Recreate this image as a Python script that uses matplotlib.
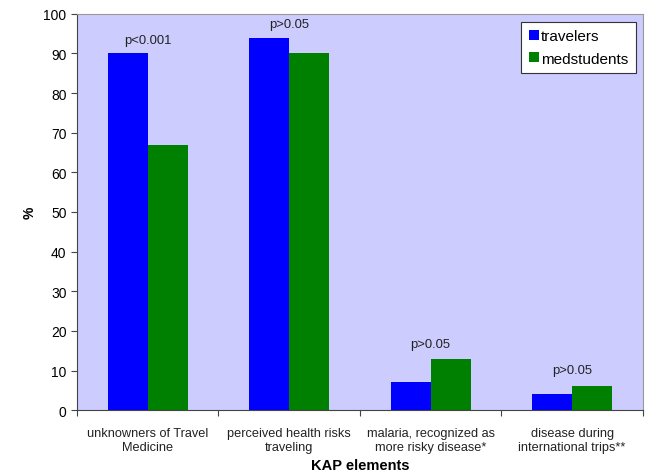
import matplotlib
matplotlib.use("Agg")
import matplotlib.pyplot as plt
import numpy as np

plt.rcParams['font.family'] = ['Liberation Sans', 'DejaVu Sans']

categories = ["unknowners of Travel\nMedicine",
              "perceived health risks\ntraveling",
              "malaria, recognized as\nmore risky disease*",
              "disease during\ninternational trips**"]
travelers = [90, 94, 7, 4]
medstudents = [67, 90, 13, 6]
p_labels = ["p<0.001", "p>0.05", "p>0.05", "p>0.05"]
p_heights = [93.5, 97.3, 16.7, 10.1]

fig = plt.figure(figsize=(6.52, 4.77), dpi=100)
ax = fig.add_axes([0.118, 0.138, 0.868, 0.831])
ax.set_facecolor("#CCCCFF")

x = np.arange(len(categories))
w = 0.283
ax.bar(x - w / 2, travelers, w, color="#0000FF", label="travelers")
ax.bar(x + w / 2, medstudents, w, color="#008000", label="medstudents")

for xi, txt, h in zip(x, p_labels, p_heights):
    ax.text(xi, h, txt, ha="center", va="center", fontsize=9.4, color="#222222")

ax.set_xlim(-0.5, len(categories) - 0.5)
ax.set_ylim(0, 100)
ax.set_yticks(range(0, 101, 10))
ax.tick_params(axis="y", labelsize=10, length=4, color="#444444")

# category labels sit between the boundary ticks
ax.set_xticks(np.arange(-0.5, len(categories), 1.0))
ax.set_xticklabels([])
ax.tick_params(axis="x", length=4, color="#444444")
ax.set_xticks(x, minor=True)
ax.set_xticklabels(categories, minor=True, fontsize=9.2, color="#222222")
ax.tick_params(axis="x", which="minor", length=0, pad=12)

for s in ["top", "right"]:
    ax.spines[s].set_color("#999999")
for s in ["left", "bottom"]:
    ax.spines[s].set_color("#444444")

ax.set_xlabel("KAP elements", fontsize=10.5, fontweight="bold", labelpad=4)
ax.set_ylabel("%", fontsize=10, fontweight="bold", labelpad=5)

leg = ax.legend(loc="upper right", bbox_to_anchor=(0.988, 0.98), borderaxespad=0,
                fontsize=11, fancybox=False, framealpha=1, edgecolor="#333333",
                handlelength=0.65, handleheight=0.65, handletextpad=0.15,
                borderpad=0.5, labelspacing=0.55)
leg.get_frame().set_linewidth(0.8)

fig.savefig("out.png", dpi=100)
